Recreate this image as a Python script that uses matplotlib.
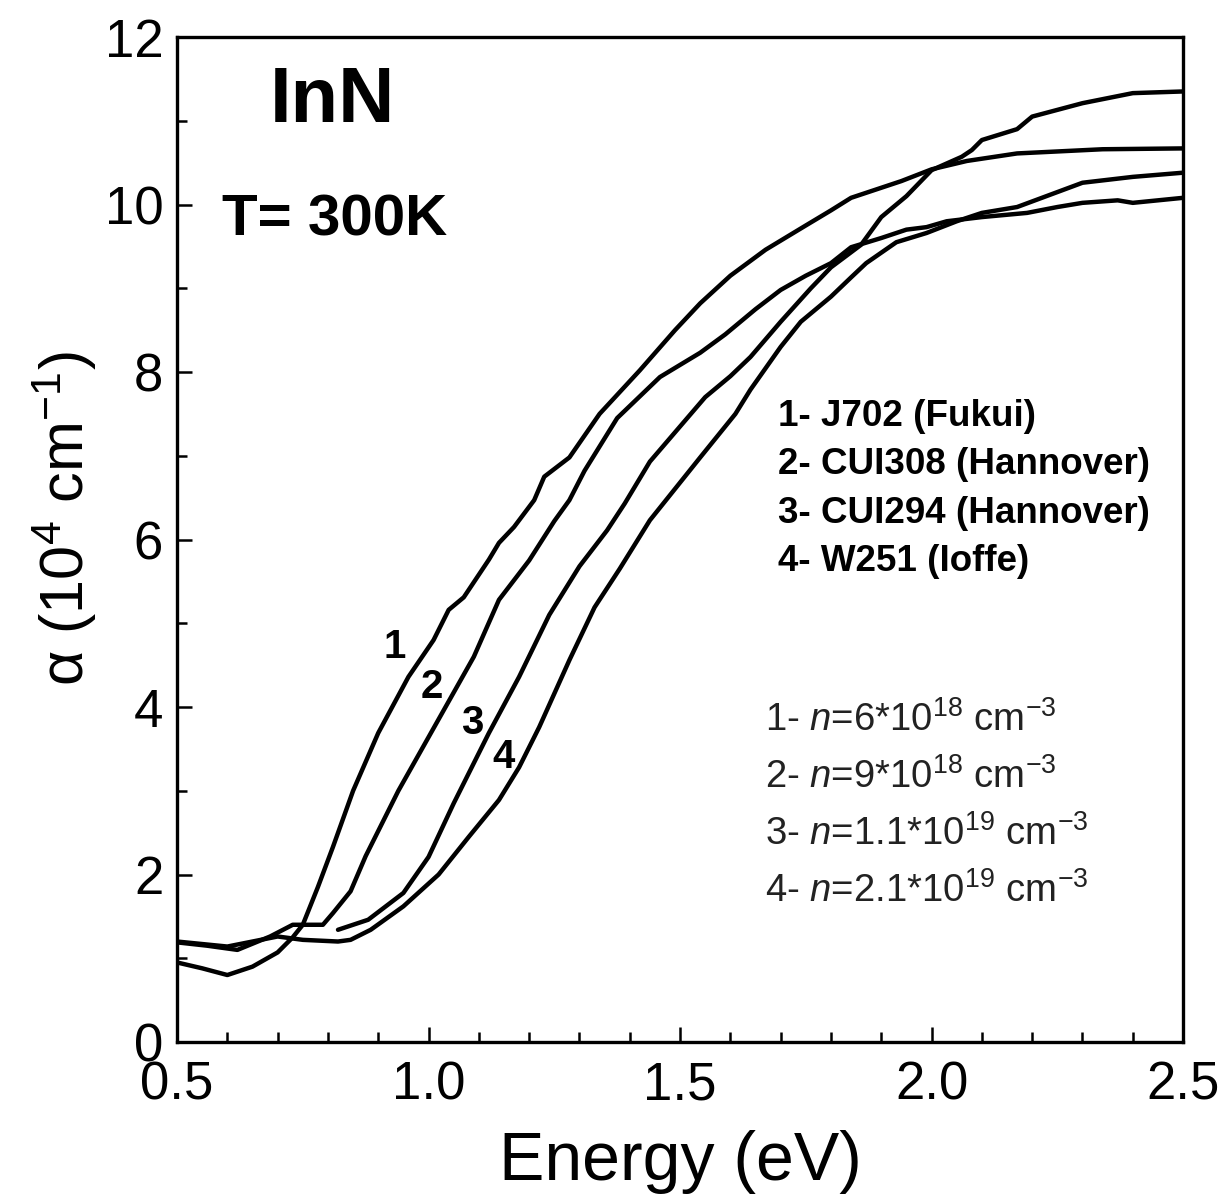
import matplotlib
matplotlib.use("Agg")
import matplotlib.pyplot as plt
import matplotlib.transforms as mtransforms
from matplotlib.ticker import MultipleLocator

plt.rcParams['font.family'] = 'Liberation Sans'
plt.rcParams['mathtext.fontset'] = 'custom'
plt.rcParams['mathtext.rm'] = 'Liberation Sans'
plt.rcParams['mathtext.it'] = 'Liberation Sans:italic'
plt.rcParams['mathtext.bf'] = 'Liberation Sans:bold'

# ── data (energy in eV, alpha in 1e4 cm^-1) ────────────────────────────────
e1 = [0.50, 0.55, 0.60, 0.65, 0.70, 0.73, 0.75, 0.78, 0.81, 0.85, 0.90, 0.96,
      1.01, 1.04, 1.07, 1.12, 1.14, 1.17, 1.21, 1.23, 1.28, 1.34, 1.42, 1.49,
      1.54, 1.60, 1.67, 1.75, 1.80, 1.84, 1.94, 2.00, 2.07, 2.17, 2.34, 2.50]
a1 = [0.95, 0.88, 0.80, 0.90, 1.07, 1.25, 1.40, 1.85, 2.33, 3.00, 3.69, 4.36,
      4.80, 5.16, 5.31, 5.76, 5.96, 6.15, 6.47, 6.75, 6.98, 7.50, 8.02, 8.50,
      8.82, 9.15, 9.46, 9.75, 9.93, 10.08, 10.28, 10.42, 10.52, 10.61, 10.66, 10.67]

e2 = [0.50, 0.56, 0.62, 0.685, 0.73, 0.79, 0.81, 0.845, 0.875, 0.94, 1.03,
      1.09, 1.14, 1.20, 1.25, 1.28, 1.31, 1.375, 1.46, 1.54, 1.59, 1.65, 1.70,
      1.75, 1.80, 1.84, 1.90, 1.95, 1.99, 2.03, 2.10, 2.19, 2.25, 2.30, 2.37,
      2.40, 2.45, 2.50]
a2 = [1.19, 1.15, 1.10, 1.26, 1.40, 1.40, 1.54, 1.80, 2.22, 3.00, 3.96,
      4.60, 5.28, 5.75, 6.22, 6.47, 6.82, 7.45, 7.94, 8.23, 8.45, 8.75, 8.98,
      9.15, 9.30, 9.49, 9.60, 9.70, 9.73, 9.80, 9.85, 9.90, 9.97, 10.02, 10.05,
      10.02, 10.05, 10.08]

e3 = [0.82, 0.88, 0.95, 1.00, 1.05, 1.12, 1.18, 1.24, 1.30, 1.355, 1.39,
      1.44, 1.50, 1.55, 1.60, 1.64, 1.70, 1.76, 1.80, 1.86, 1.90, 1.95, 2.00,
      2.06, 2.08, 2.10, 2.17, 2.20, 2.30, 2.40, 2.50]
a3 = [1.34, 1.46, 1.78, 2.21, 2.85, 3.69, 4.36, 5.10, 5.68, 6.11, 6.43,
      6.93, 7.35, 7.70, 7.95, 8.18, 8.60, 9.00, 9.25, 9.52, 9.85, 10.10, 10.41,
      10.57, 10.65, 10.77, 10.90, 11.05, 11.21, 11.33, 11.35]

e4 = [0.50, 0.55, 0.60, 0.65, 0.70, 0.75, 0.82, 0.845, 0.885, 0.95, 1.02,
      1.08, 1.14, 1.18, 1.22, 1.28, 1.33, 1.38, 1.44, 1.54, 1.61, 1.64, 1.70,
      1.74, 1.80, 1.84, 1.87, 1.93, 1.99, 2.05, 2.10, 2.17, 2.30, 2.40, 2.50]
a4 = [1.20, 1.17, 1.14, 1.20, 1.26, 1.22, 1.20, 1.22, 1.34, 1.62, 2.00,
      2.45, 2.89, 3.28, 3.76, 4.56, 5.19, 5.65, 6.23, 6.98, 7.50, 7.79, 8.30,
      8.60, 8.90, 9.13, 9.30, 9.55, 9.66, 9.80, 9.90, 9.97, 10.26, 10.33, 10.38]

curve_labels = ['1', '2', '3', '4']
label_pos_e = [0.933, 1.007, 1.087, 1.149]
label_pos_a = [4.72, 4.24, 3.81, 3.40]

samples = ['1- J702 (Fukui)', '2- CUI308 (Hannover)',
           '3- CUI294 (Hannover)', '4- W251 (Ioffe)']
densities = [r'1- $\it{n}$=6*10$^{18}$ cm$^{-3}$',
             r'2- $\it{n}$=9*10$^{18}$ cm$^{-3}$',
             r'3- $\it{n}$=1.1*10$^{19}$ cm$^{-3}$',
             r'4- $\it{n}$=2.1*10$^{19}$ cm$^{-3}$']

# ── figure ─────────────────────────────────────────────────────────────────
fig = plt.figure(figsize=(12.26, 11.98), dpi=100)
ax = fig.add_axes([0.1444, 0.1302, 0.8206, 0.8389])

for e, a in [(e1, a1), (e2, a2), (e3, a3), (e4, a4)]:
    ax.plot(e, a, '-', color='black', linewidth=3.2, solid_capstyle='round')

for lab, x, y in zip(curve_labels, label_pos_e, label_pos_a):
    ax.text(x, y, lab, fontsize=29, fontweight='bold', ha='center', va='center')

ax.text(0.154, 0.9154, 'InN', transform=ax.transAxes, fontsize=56,
        fontweight='bold', ha='center', va='baseline')
ax.text(0.045, 0.803, 'T= 300K', transform=ax.transAxes, fontsize=42,
        fontweight='bold', ha='left', va='baseline')

for i, s in enumerate(samples):
    ax.text(0.597, 0.613 - i * 0.0482, s, transform=ax.transAxes,
            fontsize=26.5, fontweight='bold', ha='left', va='baseline')

for i, s in enumerate(densities):
    ax.text(0.584, 0.3095 - i * 0.0567, s, transform=ax.transAxes,
            fontsize=27.5, color='#222222', ha='left', va='baseline')

ax.set_xlim(0.5, 2.5)
ax.set_ylim(0, 12)
ax.xaxis.set_major_locator(MultipleLocator(0.5))
ax.xaxis.set_minor_locator(MultipleLocator(0.1))
ax.yaxis.set_major_locator(MultipleLocator(2))
ax.yaxis.set_minor_locator(MultipleLocator(1))

ax.tick_params(which='both', direction='in', top=False, right=False, width=1.8)
ax.tick_params(which='major', length=11, labelsize=38)
ax.tick_params(which='minor', length=7)
ax.tick_params(axis='x', pad=13)
ax.tick_params(axis='y', pad=10)
for sp in ax.spines.values():
    sp.set_linewidth(2.4)

# lift the "0" on the y axis a little so it clears the "0.5" below it
zero_lbl = ax.yaxis.get_major_ticks()[0].label1
zero_lbl.set_transform(zero_lbl.get_transform() +
                       mtransforms.ScaledTranslation(0, 7 / 72, fig.dpi_scale_trans))

ax.set_xlabel('Energy (eV)', fontsize=49, labelpad=14)
ax.set_ylabel('α (10$^4$ cm$^{-1}$)', fontsize=44)
ax.yaxis.set_label_coords(-0.078, 0.521)

fig.savefig('out.png', dpi=100)
